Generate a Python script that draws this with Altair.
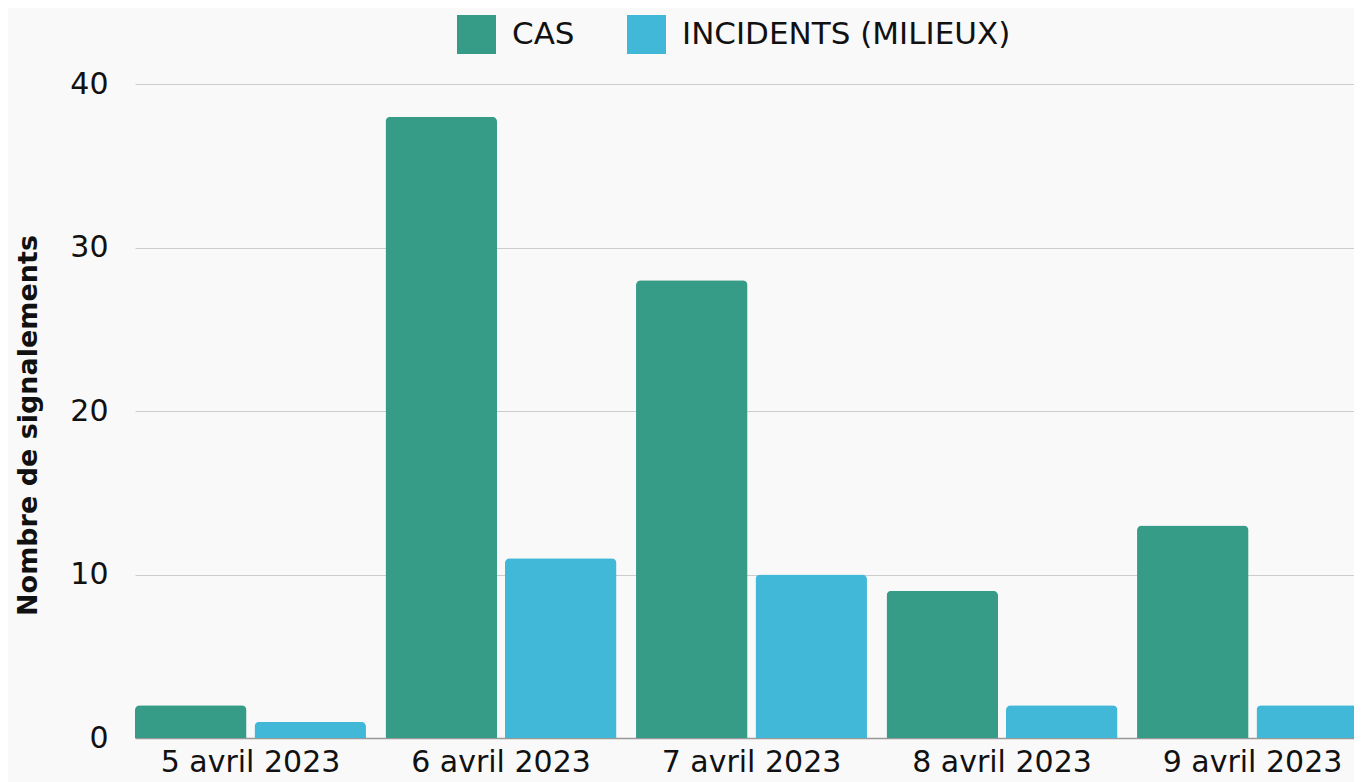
import altair as alt
import pandas as pd

dates = ["5 avril 2023", "6 avril 2023", "7 avril 2023", "8 avril 2023", "9 avril 2023"]
series = ["CAS", "INCIDENTS (MILIEUX)"]
cas = [2, 38, 28, 9, 13]
incidents = [1, 11, 10, 2, 2]
colors = ["#369b87", "#42b8d8"]

rows = []
for d, c, i in zip(dates, cas, incidents):
    rows.append({"date": d, "serie": series[0], "valeur": c})
    rows.append({"date": d, "serie": series[1], "valeur": i})
df = pd.DataFrame(rows)

FONT = "DejaVu Sans"

chart = alt.Chart(df).mark_bar(
    cornerRadiusTopLeft=5, cornerRadiusTopRight=5
).encode(
    x=alt.X("date:N", sort=dates,
            scale=alt.Scale(paddingInner=0.078, paddingOuter=0, range=[0, 1233]),
            axis=alt.Axis(title=None, labelAngle=0, domain=False,
                          ticks=False, labelPadding=9, labelFontSize=30,
                          labelFont=FONT, labelColor="#111111", grid=False)),
    xOffset=alt.XOffset("serie:N", sort=series,
                        scale=alt.Scale(paddingInner=0.0667, paddingOuter=0)),
    y=alt.Y("valeur:Q", scale=alt.Scale(domain=[0, 40], nice=False),
            axis=alt.Axis(title="Nombre de signalements", values=[0, 10, 20, 30, 40],
                          domain=False, ticks=False, labelPadding=27, labelFontSize=30,
                          labelFont=FONT, labelColor="#111111",
                          gridColor={"expr": "datum.value === 0 ? '#999999' : '#cccccc'"},
                          gridWidth={"expr": "datum.value === 0 ? 1.5 : 1"},
                          titleFont=FONT, titleFontSize=27, titleFontWeight="bold",
                          titleColor="#111111", titleAngle=270, titleAlign="center",
                          titleBaseline="alphabetic", titleX=-99, titleY=341)),
    color=alt.Color("serie:N", sort=series,
                    scale=alt.Scale(domain=series, range=colors),
                    legend=alt.Legend(title=None, orient="none", legendX=322, legendY=-69,
                                      direction="horizontal", symbolType="square",
                                      symbolSize=1521, symbolStrokeWidth=0, symbolOpacity=1,
                                      labelFont=FONT, labelFontSize=31, labelColor="#111111",
                                      labelOffset=16, columnPadding=52, padding=0,
                                      labelLimit=600)),
).properties(
    width=1219, height=654, background="#f9f9f9",
    autosize=alt.AutoSizeParams(type="none"),
    padding={"left": 127, "top": 76, "right": 0, "bottom": 44}
).configure_view(stroke=None)

chart.save("out.html", embed_options={"renderer": "svg", "actions": False})
